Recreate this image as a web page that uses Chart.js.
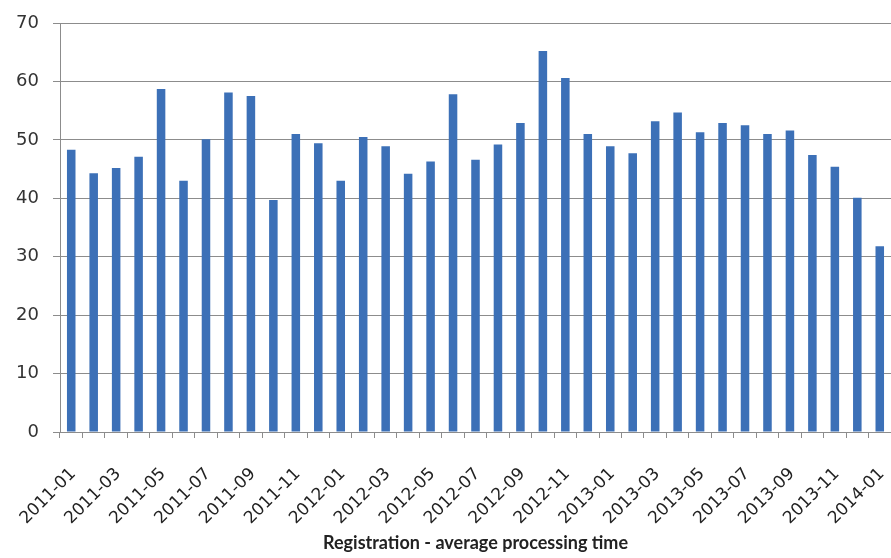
<!DOCTYPE html>
<html>
<head>
<meta charset="utf-8">
<script src="https://cdn.jsdelivr.net/npm/chart.js@4/dist/chart.umd.min.js"></script>
<style>
  html, body { margin: 0; padding: 0; background: #ffffff; }
  #wrap { width: 891px; height: 558px; position: relative; }
</style>
</head>
<body>
<div id="wrap"><canvas id="chart"></canvas></div>
<script>
// Monthly categories, Jan 2011 – Jan 2014
const months = [
  '2011-01','2011-02','2011-03','2011-04','2011-05','2011-06','2011-07','2011-08','2011-09','2011-10','2011-11','2011-12',
  '2012-01','2012-02','2012-03','2012-04','2012-05','2012-06','2012-07','2012-08','2012-09','2012-10','2012-11','2012-12',
  '2013-01','2013-02','2013-03','2013-04','2013-05','2013-06','2013-07','2013-08','2013-09','2013-10','2013-11','2013-12',
  '2014-01'
];

// Average processing time per month
const processingTime = [
  48.3, 44.3, 45.2, 47.1, 58.7, 43.0, 50.1, 58.1, 57.5, 39.7, 51.0, 49.4,
  43.0, 50.5, 48.9, 44.2, 46.3, 57.8, 46.6, 49.2, 52.9, 65.2, 60.6, 51.0,
  48.9, 47.7, 53.2, 54.7, 51.3, 52.9, 52.5, 51.0, 51.6, 47.4, 45.4, 40.1,
  31.8
];

// Value axis ticks
const yTicks = [0, 10, 20, 30, 40, 50, 60, 70];

const axisTitle = 'Registration - average processing time';
const gridGray = '#8c8c8c';
const titleFont = 'Lato, "Open Sans", sans-serif';
const tickFont = '"DejaVu Sans", Verdana, sans-serif';

new Chart(document.getElementById('chart'), {
  type: 'bar',
  data: {
    labels: months,
    datasets: [{
      data: processingTime,
      backgroundColor: '#3c70b7',
      borderWidth: 0,
      barPercentage: 0.38,
      categoryPercentage: 1.0
    }]
  },
  options: {
    responsive: true,
    maintainAspectRatio: false,
    animation: false,
    layout: { padding: { top: 23, right: 0, bottom: 0, left: 0 } },
    plugins: {
      legend: { display: false },
      tooltip: { enabled: false }
    },
    scales: {
      x: {
        offset: true,
        grid: {
          offset: true,
          drawOnChartArea: false,
          drawTicks: true,
          tickLength: 6,
          color: gridGray
        },
        border: { display: true, color: gridGray, width: 1 },
        ticks: {
          autoSkip: false,
          maxRotation: 45,
          minRotation: 45,
          padding: 26,
          labelOffset: 2,
          color: '#222222',
          font: { family: tickFont, size: 17 },
          callback: function (value, index) {
            return index % 2 === 0 ? this.getLabelForValue(value) : '';
          }
        },
        title: {
          display: true,
          text: axisTitle,
          color: '#222222',
          font: { family: titleFont, size: 18, weight: 'bold' },
          padding: { top: 8, bottom: 4 }
        },
        afterFit: function (scale) {
          scale.height = 126;
          scale.paddingLeft = 0;
          scale.paddingRight = 0;
        }
      },
      y: {
        min: 0,
        max: 70,
        afterBuildTicks: function (scale) {
          scale.ticks = yTicks.map(v => ({ value: v }));
        },
        grid: {
          color: gridGray,
          lineWidth: 1,
          tickLength: 7
        },
        border: { display: true, color: gridGray, width: 1 },
        ticks: {
          padding: 14,
          color: '#333333',
          font: { family: tickFont, size: 18 }
        },
        afterFit: function (scale) {
          scale.width = 60;
          scale.paddingTop = 0;
          scale.paddingBottom = 0;
        }
      }
    }
  }
});
</script>
</body>
</html>
